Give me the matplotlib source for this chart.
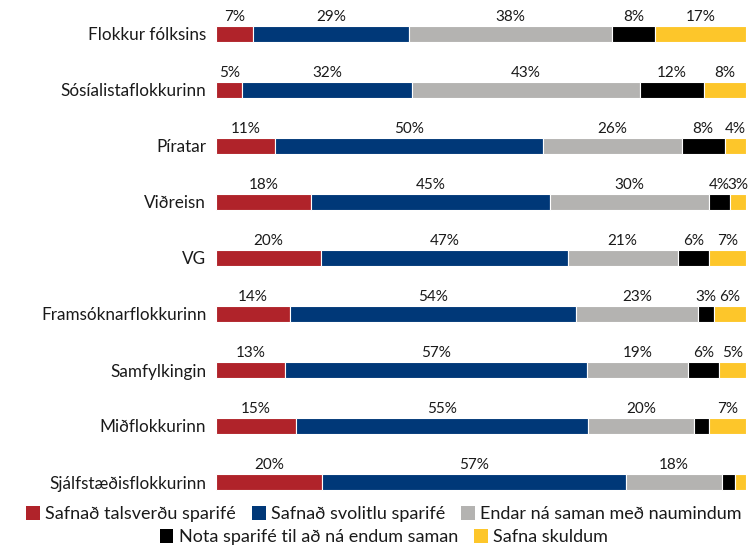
import matplotlib
matplotlib.use("Agg")
import matplotlib.pyplot as plt
from matplotlib.patches import Patch
import numpy as np

categories = ["Flokkur fólksins", "Sósíalistaflokkurinn", "Píratar", "Viðreisn", "VG",
              "Framsóknarflokkurinn", "Samfylkingin", "Miðflokkurinn", "Sjálfstæðisflokkurinn"]
series_names = ["Safnað talsverðu sparifé", "Safnað svolitlu sparifé",
                "Endar ná saman með naumindum", "Nota sparifé til að ná endum saman",
                "Safna skuldum"]
talsvert = [7, 5, 11, 18, 20, 14, 13, 15, 20]
svolitid = [29, 32, 50, 45, 47, 54, 57, 55, 57]
naumindum = [38, 43, 26, 30, 21, 23, 19, 20, 18]
nota_sparife = [8, 12, 8, 4, 6, 3, 6, 2.7, 2.5]
skuldir = [17, 8, 4, 3, 7, 6, 5, 7, 2.1]
colors = ["#B0232A", "#003878", "#B4B3B1", "#000000", "#FDC62A"]

plt.rcParams['font.family'] = ['Lato', 'DejaVu Sans']

data = np.array([talsvert, svolitid, naumindum, nota_sparife, skuldir], dtype=float)
totals = data.sum(axis=0)
norm = data / totals * 100

fig = plt.figure(figsize=(7.5, 5.47), dpi=100)
ax = fig.add_axes([216/750, 37/547, 530/750, 504/547])
y = np.arange(len(categories))
left = np.zeros(len(categories))
bh = 0.28
for k in range(5):
    ax.barh(y, norm[k], left=left, height=bh, color=colors[k], edgecolor='white', linewidth=0.8)
    for i in range(len(categories)):
        v = data[k, i]
        if v >= 2.95:
            ax.annotate(f"{int(round(v))}%", (left[i] + norm[k, i] / 2, y[i] - bh / 2),
                        xytext=(0, 1.5), textcoords='offset points',
                        ha='center', va='bottom', fontsize=11, color='#1a1a1a')
    left += norm[k]

ax.set_xlim(0, 100)
ax.set_ylim(len(categories) - 0.5, -0.5)
ax.set_yticks(y)
ax.set_yticklabels(categories, fontsize=12.3, color='#1a1a1a')
ax.tick_params(axis='y', length=0, pad=7)
ax.set_xticks([])
for s in ax.spines.values():
    s.set_visible(False)

h1 = [Patch(facecolor=colors[k], edgecolor='none') for k in range(3)]
h2 = [Patch(facecolor=colors[k], edgecolor='none') for k in range(3, 5)]
leg_kw = dict(frameon=False, fontsize=13, handlelength=0.75, handleheight=0.8,
              handletextpad=0.3, columnspacing=0.9, borderpad=0, labelcolor='#1a1a1a')
l1 = fig.legend(h1, series_names[:3], loc='center', ncol=3,
                bbox_to_anchor=(0.512, 1 - 514/547), **leg_kw)
l2 = fig.legend(h2, series_names[3:], loc='center', ncol=2,
                bbox_to_anchor=(0.512, 1 - 537/547), **leg_kw)

fig.savefig("out.png", dpi=100)
